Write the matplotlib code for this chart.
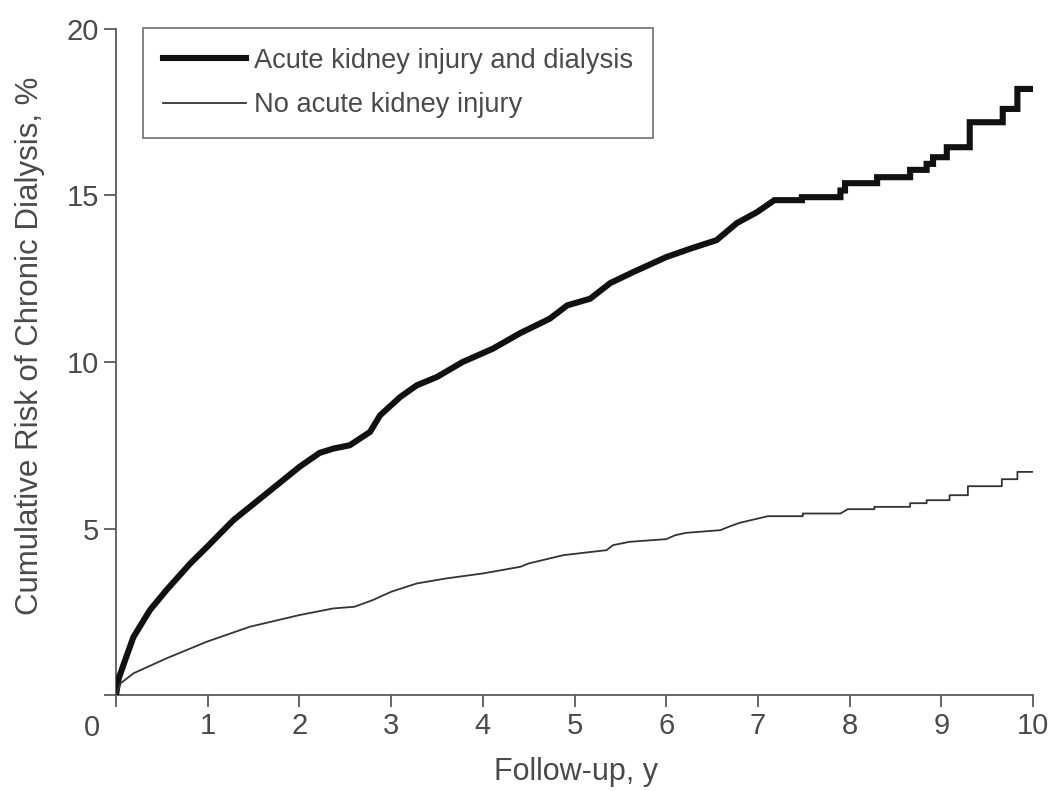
import matplotlib
matplotlib.use("Agg")
import matplotlib.pyplot as plt

plt.rcParams["font.family"] = ["Liberation Sans", "DejaVu Sans"]

# Cumulative risk of chronic dialysis (%), by follow-up year
aki_t = [0, 0.03, 0.10, 0.19, 0.37, 0.55, 0.81, 0.99, 1.28, 1.65, 2.00, 2.22,
         2.37, 2.55, 2.77, 2.88, 3.10, 3.28, 3.50, 3.78, 4.11, 4.41, 4.73, 4.92,
         5.17, 5.39, 5.64, 6.00, 6.26, 6.55, 6.77, 6.99, 7.18,
         7.48, 7.48, 7.90, 7.90, 7.95, 7.95, 8.30, 8.30, 8.66, 8.66, 8.84, 8.84,
         8.91, 8.91, 9.06, 9.06, 9.31, 9.31, 9.67, 9.67, 9.83, 9.83, 10.0]
aki_v = [0, 0.50, 1.05, 1.74, 2.55, 3.15, 3.95, 4.44, 5.25, 6.07, 6.85, 7.27,
         7.40, 7.50, 7.90, 8.40, 8.95, 9.30, 9.55, 10.0, 10.4, 10.87, 11.30, 11.70,
         11.90, 12.37, 12.70, 13.15, 13.40, 13.66, 14.17, 14.50, 14.86,
         14.86, 14.95, 14.95, 15.15, 15.15, 15.37, 15.37, 15.55, 15.55, 15.77, 15.77,
         15.95, 15.95, 16.15, 16.15, 16.45, 16.45, 17.20, 17.20, 17.60, 17.60, 18.20, 18.20]

no_aki_t = [0, 0.05, 0.19, 0.55, 0.99, 1.46, 2.00, 2.37, 2.60, 2.80, 3.00, 3.28,
            3.60, 4.00, 4.41, 4.50, 4.88, 5.35, 5.42, 5.60, 6.00, 6.10, 6.22, 6.59,
            6.68, 6.80, 7.11,
            7.49, 7.49, 7.90, 7.98, 8.27, 8.27, 8.66, 8.66, 8.84, 8.84, 9.09, 9.09,
            9.29, 9.29, 9.66, 9.66, 9.83, 9.83, 10.0]
no_aki_v = [0, 0.35, 0.65, 1.10, 1.60, 2.05, 2.40, 2.60, 2.65, 2.85, 3.10, 3.35,
            3.50, 3.65, 3.85, 3.95, 4.20, 4.35, 4.50, 4.60, 4.68, 4.80, 4.87, 4.95,
            5.05, 5.17, 5.37,
            5.37, 5.45, 5.45, 5.58, 5.58, 5.65, 5.65, 5.76, 5.76, 5.85, 5.85, 6.00,
            6.00, 6.27, 6.27, 6.48, 6.48, 6.70, 6.70]

x_ticks = [1, 2, 3, 4, 5, 6, 7, 8, 9, 10]
y_ticks = [5, 10, 15, 20]

text_color = "#4a4a4a"
axis_color = "#5a5a5a"

fig = plt.figure(figsize=(10.52, 7.91), dpi=100)
ax = fig.add_axes([116 / 1052, 96 / 791, 917 / 1052, 666 / 791])

ax.plot(aki_t, aki_v, color="#111111", lw=4.4, solid_joinstyle="miter",
        label="Acute kidney injury and dialysis", zorder=3)
ax.plot(no_aki_t, no_aki_v, color="#333333", lw=1.3,
        label="No acute kidney injury", zorder=3)

ax.set_xlim(0, 10)
ax.set_ylim(0, 20)

for side in ("top", "right"):
    ax.spines[side].set_visible(False)
for side in ("left", "bottom"):
    ax.spines[side].set_color(axis_color)
    ax.spines[side].set_linewidth(1.3)

ax.set_xticks([0] + x_ticks)
ax.set_xticklabels([""] + [str(v) for v in x_ticks])
ax.set_yticks([0] + y_ticks)
ax.set_yticklabels([""] + [str(v) for v in y_ticks])
ax.tick_params(axis="both", direction="out", length=8.5, width=1.3,
               color=axis_color, labelcolor=text_color, labelsize=21, pad=4)

# shared origin label at the corner
ax.annotate("0", xy=(0, 0), xycoords="data", xytext=(-17.5, -24),
            textcoords="offset points", ha="center", va="center",
            fontsize=21, color=text_color)

ax.set_xlabel("Follow-up, y", fontsize=22, color=text_color, va="center")
ax.xaxis.set_label_coords(0.5016, -0.116)
ax.set_ylabel("Cumulative Risk of Chronic Dialysis, %", fontsize=22.5,
              color=text_color, va="center")
ax.yaxis.set_label_coords(-0.094, 0.524)

leg = ax.legend(loc="upper left", bbox_to_anchor=(27 / 917, 1.0015),
                fontsize=19.6, frameon=True, fancybox=False, borderaxespad=0,
                handlelength=3.05, handletextpad=0.3, borderpad=0.72,
                labelspacing=0.68)
leg.get_frame().set_edgecolor(axis_color)
leg.get_frame().set_linewidth(1.3)
for t in leg.get_texts():
    t.set_color(text_color)

fig.savefig("out.png", dpi=100)
